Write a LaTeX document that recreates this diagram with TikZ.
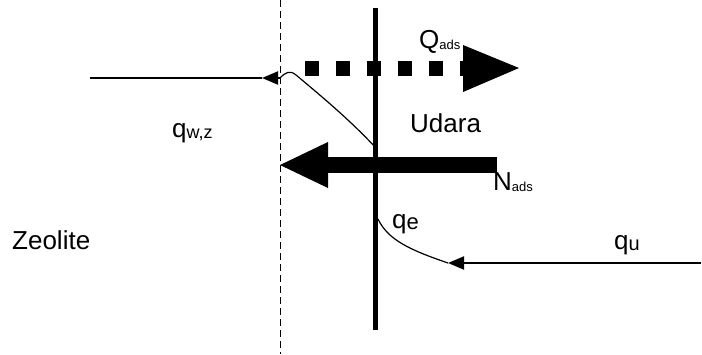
\documentclass[tikz,border=0pt]{standalone}
\usepackage{fontspec}
\setmainfont{Liberation Sans}
\usetikzlibrary{arrows.meta}
\newcommand\lowsub[2]{\raisebox{-1.5pt}{\fontsize{#1}{#1}\selectfont #2}}
\begin{document}
\begin{tikzpicture}[x=1pt,y=-1pt,
  lbl/.style={inner sep=0pt,font=\fontsize{26}{26}\selectfont},
  thin/.style={line width=2pt},
  tinyhead/.style={-{Triangle[length=16pt,width=13pt]}}]
\useasboundingbox (0,0) rectangle (702,354);

% interface lines
\coordinate (dtop) at (280,0);
\coordinate (dbot) at (280,354);
\draw[line width=1pt,dash pattern=on 7pt off 4pt] (dtop) -- (dbot);
\coordinate (wtop) at (375,8);
\coordinate (wbot) at (375,330);
\draw[line width=5pt] (wtop) -- (wbot);

% Q_ads: dotted thick arrow
\coordinate (qs) at (305,68);
\coordinate (qe) at (466,68);
\draw[line width=15pt,dash pattern=on 14pt off 17pt] (qs) -- (qe);
\fill (463,45) -- (519,68) -- (463,92) -- cycle;

% N_ads: thick arrow pointing into zeolite
\coordinate (ns) at (497,165);
\coordinate (ne) at (326,165);
\draw[line width=16pt] (ns) -- (ne);
\fill (280,165) -- (328,142) -- (328,188) -- cycle;

% q_w,z profile
\coordinate (a1) at (90,78);
\coordinate (aw) at (262,78);
\coordinate (a2) at (280,78);
\coordinate (a3) at (375,147);
\draw[thin,tinyhead] (a2) -- (aw);
\draw[thin] (aw) -- (a1);
\draw[line width=1.2pt] (a2) .. controls (286,72) and (290,70) .. (296,75)
  .. controls (320,95) and (350,120) .. (a3);

% q_e / q_u profile
\coordinate (b1) at (378,219);
\coordinate (b2) at (448,263);
\coordinate (b3) at (701,263);
\draw[line width=1.2pt] (b1) .. controls (388,240) and (410,250) .. (b2);
\draw[thin,tinyhead] (b3) -- (b2);

% labels
\node[lbl,anchor=base west] (tq) at (419,48) {Q\lowsub{13}{ads}};
\node[lbl,anchor=base west] (tu) at (410,132) {Udara};
\node[lbl,anchor=base west] (tn) at (493,190) {N\lowsub{13}{ads}};
\node[lbl,anchor=base west] (tw) at (172,137) {q\lowsub{18}{w,z}};
\node[lbl,anchor=base west] (te) at (392,228) {q\lowsub{22}{e}};
\node[lbl,anchor=base west] (tqu) at (614,249) {q\lowsub{20}{u}};
\node[lbl,anchor=base west] (tz) at (12,249) {Zeolite};
\end{tikzpicture}
\end{document}
